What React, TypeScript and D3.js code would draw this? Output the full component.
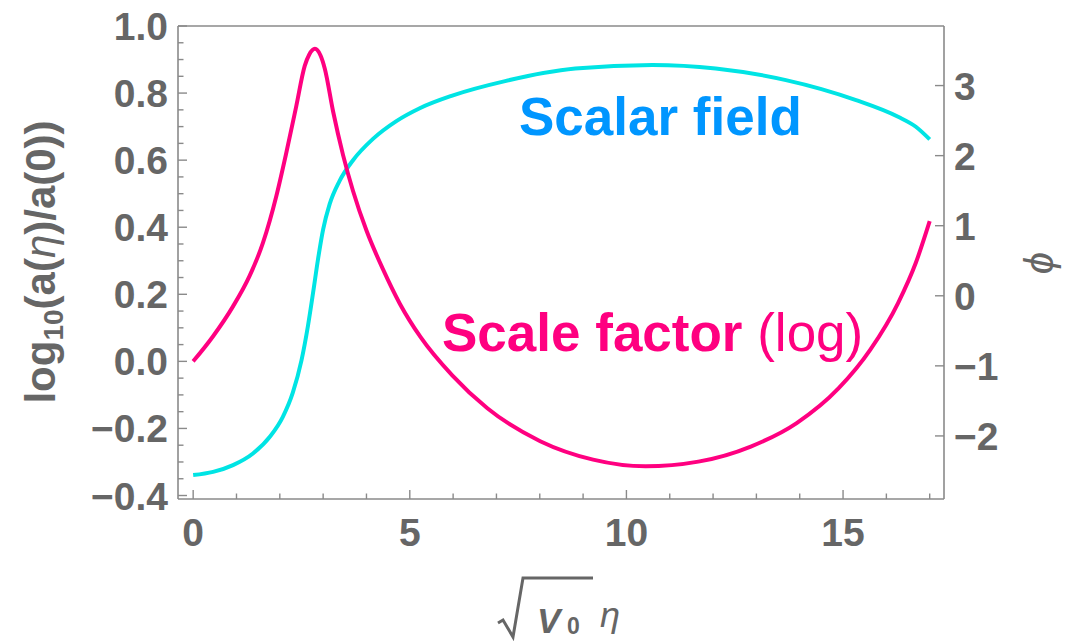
import React from "react";
import * as d3 from "d3";

// ---- Data ----
const scaleFactorX = [0, 0.46, 0.92, 1.3, 1.61, 1.92, 2.15, 2.38, 2.575, 2.68, 2.81, 2.94, 3.04, 3.23, 3.46, 3.69, 4.0, 4.38, 4.77, 5.25, 5.98, 6.79, 8.01, 9.23, 10.44, 11.66, 12.87, 13.93, 14.9, 15.63, 16.27, 16.68, 17.0];
const scaleFactorLog = [0, 0.075, 0.164, 0.254, 0.353, 0.493, 0.622, 0.761, 0.881, 0.915, 0.932, 0.912, 0.872, 0.745, 0.615, 0.508, 0.39, 0.275, 0.172, 0.072, -0.042, -0.14, -0.238, -0.293, -0.313, -0.299, -0.254, -0.184, -0.08, 0.035, 0.174, 0.294, 0.418];

const scalarFieldX = [0, 0.46, 0.92, 1.38, 1.77, 2.07, 2.3, 2.5, 2.65, 2.77, 2.88, 3.0, 3.15, 3.38, 3.69, 4.15, 4.69, 5.23, 5.98, 7.2, 8.82, 10.6, 12.06, 13.68, 14.5, 15.3, 16.27, 16.68, 17.0];
const scalarFieldPhi = [-2.559, -2.513, -2.416, -2.25, -2.012, -1.727, -1.382, -0.922, -0.427, 0.053, 0.515, 0.947, 1.307, 1.64, 1.935, 2.239, 2.493, 2.677, 2.857, 3.064, 3.242, 3.295, 3.245, 3.078, 2.95, 2.793, 2.555, 2.412, 2.232];

const xTicks = [0, 5, 10, 15];
const xMinorTicks = [1, 2, 3, 4, 6, 7, 8, 9, 11, 12, 13, 14, 16, 17];
const leftTicks = [-0.4, -0.2, 0, 0.2, 0.4, 0.6, 0.8, 1.0];
const leftTickLabels = ["\u22120.4", "\u22120.2", "0.0", "0.2", "0.4", "0.6", "0.8", "1.0"];
const leftMinorTicks = [-0.35, -0.3, -0.25, -0.15, -0.1, -0.05, 0.05, 0.1, 0.15, 0.25, 0.3, 0.35, 0.45, 0.5, 0.55, 0.65, 0.7, 0.75, 0.85, 0.9, 0.95];
const rightTicks = [-2, -1, 0, 1, 2, 3];
const rightTickLabels = ["\u22122", "\u22121", "0", "1", "2", "3"];

const W = 1081;
const H = 641;
const FONT = "'Liberation Sans', Arial, Helvetica, sans-serif";
const AXIS = "#8a8a8a";
const LABEL = "#666666";
const MAGENTA = "rgb(255,0,128)";
const CYAN = "rgb(0,228,228)";
const BLUE = "rgb(0,150,255)";

export default function App() {
  const x = d3.scaleLinear().domain([-0.35, 17.33]).range([178, 944]);
  const yL = d3.scaleLinear().domain([-0.4104, 1.0]).range([499, 26]);
  const yR = d3.scaleLinear().domain([-2.9, 3.85]).range([499, 26]);

  const [x0, x1] = x.range();
  const [yb, yt] = yL.range();

  const curve = d3.curveMonotoneX;
  const lineScale = d3
    .line<number>()
    .x((_, i) => x(scaleFactorX[i]))
    .y((d) => yL(d))
    .curve(curve);
  const lineField = d3
    .line<number>()
    .x((_, i) => x(scalarFieldX[i]))
    .y((d) => yR(d))
    .curve(curve);

  return (
    <div style={{ position: "absolute", left: 0, top: 0 }}>
      <svg width={W} height={H} viewBox={`0 0 ${W} ${H}`} style={{ display: "block", background: "#fff" }}>
        {/* frame */}
        <g stroke={AXIS} strokeWidth={1.6} fill="none">
          <line x1={x0} y1={yt} x2={x1} y2={yt} />
          <line x1={x0} y1={yb} x2={x1} y2={yb} />
          <line x1={x0} y1={yt} x2={x0} y2={yb} />
          <line x1={x1} y1={yt} x2={x1} y2={yb} />
        </g>
        {/* ticks */}
        <g stroke={AXIS} strokeWidth={1.4}>
          {xTicks.map((t) => (
            <line key={"xt" + t} x1={x(t)} x2={x(t)} y1={yb} y2={yb - 9} />
          ))}
          {xMinorTicks.map((t) => (
            <line key={"xm" + t} x1={x(t)} x2={x(t)} y1={yb} y2={yb - 5.5} />
          ))}
          {leftTicks.map((t) => (
            <line key={"lt" + t} x1={x0} x2={x0 + 9} y1={yL(t)} y2={yL(t)} />
          ))}
          {leftMinorTicks.map((t) => (
            <line key={"lm" + t} x1={x0} x2={x0 + 5.5} y1={yL(t)} y2={yL(t)} />
          ))}
          {rightTicks.map((t) => (
            <line key={"rt" + t} x1={x1} x2={x1 - 9} y1={yR(t)} y2={yR(t)} />
          ))}
        </g>
        {/* tick labels */}
        <g fill={LABEL} fontFamily={FONT} fontWeight="bold" fontSize={39}>
          {xTicks.map((t) => (
            <text key={"xl" + t} x={x(t)} y={546} textAnchor="middle">
              {t}
            </text>
          ))}
          {leftTicks.map((t, i) => (
            <text key={"ll" + t} x={168} y={yL(t) + 14} textAnchor="end">
              {leftTickLabels[i]}
            </text>
          ))}
          {rightTicks.map((t, i) => (
            <text key={"rl" + t} x={954} y={yR(t) + 14} textAnchor="start">
              {rightTickLabels[i]}
            </text>
          ))}
        </g>

        {/* curves */}
        <path d={lineField(scalarFieldPhi) || ""} fill="none" stroke={CYAN} strokeWidth={4} />
        <path d={lineScale(scaleFactorLog) || ""} fill="none" stroke={MAGENTA} strokeWidth={4} />

        {/* annotations */}
        <text x={519} y={135} fill={BLUE} fontFamily={FONT} fontWeight="bold" fontSize={53}>
          Scalar field
        </text>
        <text x={442} y={351} fill={MAGENTA} fontFamily={FONT} fontSize={53}>
          <tspan fontWeight="bold">Scale factor</tspan>
          <tspan> (log)</tspan>
        </text>

        {/* left axis label */}
        <text
          transform="translate(55,262) rotate(-90)"
          textAnchor="middle"
          fill={LABEL}
          fontFamily={FONT}
          fontWeight="bold"
          fontSize={42}
        >
          <tspan>log</tspan>
          <tspan fontSize={28} dy={8}>10</tspan>
          <tspan dy={-8}>(a(</tspan>
          <tspan fontStyle="italic" fontWeight="normal">η</tspan>
          <tspan>)/a(0))</tspan>
        </text>

        {/* right axis label */}
        <text
          transform="translate(1053,263) rotate(-90)"
          textAnchor="middle"
          fill={LABEL}
          fontFamily={FONT}
          fontStyle="italic"
          fontSize={40}
        >
          ϕ
        </text>

        {/* bottom axis label: sqrt(V0) eta */}
        <path
          d="M498,623 L503,620 L513,637 L523,578 L593,578"
          fill="none"
          stroke={LABEL}
          strokeWidth={3}
          strokeLinejoin="miter"
        />
        <text x={537} y={633} fill={LABEL} fontFamily={FONT} fontWeight="bold" fontStyle="italic" fontSize={35}>
          V
        </text>
        <text x={567} y={634} fill={LABEL} fontFamily={FONT} fontWeight="bold" fontSize={23}>
          0
        </text>
        <text x={600} y={627} fill={LABEL} fontFamily={FONT} fontStyle="italic" fontSize={36}>
          η
        </text>
      </svg>
    </div>
  );
}
